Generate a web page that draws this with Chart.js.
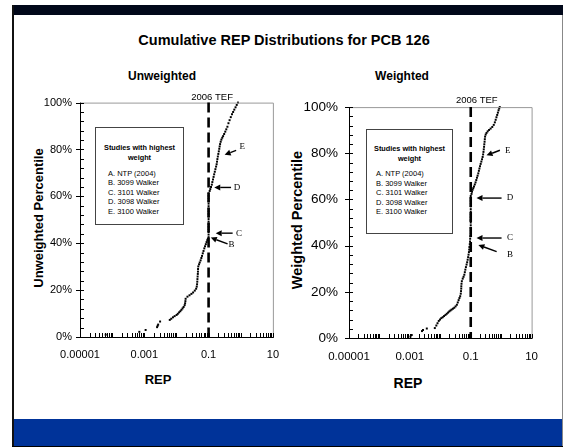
<!DOCTYPE html>
<html><head><meta charset="utf-8">
<script src="https://cdn.jsdelivr.net/npm/chart.js@4.4.0/dist/chart.umd.min.js"></script>
<style>
html,body{margin:0;padding:0;background:#fff;}
body{width:565px;height:447px;position:relative;overflow:hidden;font-family:"Liberation Sans",Arial,sans-serif;color:#000;}
.r{position:absolute;}
.t{position:absolute;white-space:nowrap;transform:translate(-50%,-50%);font-weight:bold;}
.box{position:absolute;border:1px solid #444;background:#fff;box-sizing:border-box;}
.box div{position:absolute;white-space:nowrap;line-height:1;}
.bt{font-weight:bold;left:50%;transform:translate(-50%,-50%);font-size:7.3px;}
.bi{transform:translateY(-50%);font-size:7.5px;}
</style></head>
<body>
<div class="r" style="left:12px;top:5px;width:551px;height:10px;background:#01081a"></div>
<div class="r" style="left:12px;top:5px;width:2px;height:442px;background:#111"></div>
<div class="r" style="left:562px;top:15px;width:1px;height:431px;background:#888"></div>
<div class="r" style="left:14px;top:419px;width:548px;height:27px;background:#003399"></div>
<div class="r" style="left:12px;top:446px;width:551px;height:1px;background:#000"></div>

<div class="t" style="left:284px;top:40px;font-size:14.5px">Cumulative REP Distributions for PCB 126</div>
<div class="t" style="left:162px;top:76px;font-size:12px">Unweighted</div>
<div class="t" style="left:402px;top:76px;font-size:12px">Weighted</div>
<div class="t" style="left:38px;top:218px;font-size:13px;transform:translate(-50%,-50%) rotate(-90deg)">Unweighted Percentile</div>
<div class="t" style="left:297px;top:220px;font-size:14.5px;transform:translate(-50%,-50%) rotate(-90deg)">Weighted Percentile</div>
<div class="t" style="left:158px;top:379px;font-size:13px">REP</div>
<div class="t" style="left:408px;top:383px;font-size:14px">REP</div>

<div class="r" style="left:14px;top:88px;width:276px;height:300px"><canvas id="c1" width="276" height="300"></canvas></div>
<div class="r" style="left:290px;top:88px;width:260px;height:300px"><canvas id="c2" width="260" height="300"></canvas></div>

<div class="box" style="left:95px;top:127px;width:89px;height:98px">
  <div class="bt" style="top:20px">Studies with highest</div>
  <div class="bt" style="top:30px">weight</div>
  <div class="bi" style="left:12px;top:45.5px">A. NTP (2004)</div>
  <div class="bi" style="left:12px;top:55px">B. 3099 Walker</div>
  <div class="bi" style="left:12px;top:64.5px">C. 3101 Walker</div>
  <div class="bi" style="left:12px;top:74px">D. 3098 Walker</div>
  <div class="bi" style="left:12px;top:83.5px">E. 3100 Walker</div>
</div>
<div class="box" style="left:366px;top:129px;width:87px;height:105px">
  <div class="bt" style="top:19px">Studies with highest</div>
  <div class="bt" style="top:29px">weight</div>
  <div class="bi" style="left:9px;top:44px">A. NTP (2004)</div>
  <div class="bi" style="left:9px;top:53.5px">B. 3099 Walker</div>
  <div class="bi" style="left:9px;top:63px">C. 3101 Walker</div>
  <div class="bi" style="left:9px;top:72.5px">D. 3098 Walker</div>
  <div class="bi" style="left:9px;top:82px">E. 3100 Walker</div>
</div>

<script>
// ---- data ----
const unwREP = [0.000063,0.0007,0.0011,0.0025,0.0026,0.0027,0.0031,
 0.0062,0.0069,0.0078,0.0088,0.0101,0.011,0.0121,0.0132,0.0143,0.0155,
 0.0167,0.018,0.0186,0.019,0.0193,0.022,0.0255,0.0292,0.033,0.0372,
 0.041,0.0428,0.0438,0.0445,0.045,0.0456,0.0462,0.0467,0.047,0.0478,
 0.0505,0.053,0.0565,0.0595,0.0625,0.066,0.0695,0.0735,0.0775,0.082,
 0.0865,0.091,0.095,
 0.1,0.1,0.1,0.1,0.1,0.1,0.1,0.1,0.1,0.1,0.1,0.1,0.1,0.1,0.1,0.1,0.1,0.1,
 0.108,0.113,0.119,0.126,0.131,0.137,0.143,0.149,0.156,0.163,
 0.171,0.178,0.183,0.188,0.194,0.201,0.208,0.215,0.221,0.228,
 0.238,0.25,0.266,0.283,0.305,0.33,0.355,0.385,0.415,0.45,
 0.49,0.535,0.58,0.63,0.69,0.75,0.82];
const unwPct = [1.0,2.2,3.0,4.2,4.8,5.3,6.6,
 7.3,7.8,8.4,8.9,9.4,9.9,10.5,11.0,11.6,12.2,
 12.8,13.6,14.4,15.3,16.3,17.2,17.8,18.4,19.0,19.8,
 20.6,21.5,22.5,23.6,24.7,25.8,26.9,27.9,29.0,30.1,
 31.0,31.8,32.7,33.7,34.6,35.7,36.7,37.8,38.7,39.6,
 40.5,41.3,41.9,
 42.6,43.7,44.8,45.9,47.0,48.1,49.2,50.3,51.4,52.5,53.6,54.7,55.8,56.9,58.0,59.1,60.2,61.3,
 62.3,63.1,64.0,65.0,66.1,67.2,68.3,69.4,70.5,71.6,
 72.7,73.7,74.8,75.9,77.0,78.1,79.2,80.3,81.3,82.3,
 83.3,84.2,85.0,85.7,86.6,87.6,88.6,89.7,91.2,92.5,
 93.8,95.0,96.0,97.0,98.0,99.0,100];

const wREP = [0.00105,0.00115,0.0025,0.0027,0.0036,0.0066,0.0074,0.0081,0.0089,0.0098,
 0.0108,0.012,0.0133,0.0148,0.0163,0.018,0.0197,0.0215,0.0235,0.026,
 0.0288,0.0318,0.035,0.0375,0.04,0.0425,0.045,0.047,0.048,0.0487,
 0.049,0.0497,0.051,0.0545,0.058,0.0615,0.064,0.0665,0.0695,0.073,
 0.0762,0.0792,0.082,0.0848,0.0873,0.089,0.0905,0.093,0.0948,0.0958,
 0.0975,
 0.1,0.1,0.1,0.1,0.1,0.1,0.1,0.1,0.1,0.1,0.1,0.1,0.1,0.1,0.1,
 0.106,0.11,0.115,0.121,0.128,0.136,0.144,0.152,0.16,0.168,
 0.177,0.185,0.193,0.202,0.212,0.223,0.235,0.246,0.255,0.262,
 0.268,0.274,0.279,0.285,0.29,0.296,0.31,0.33,0.36,0.4,
 0.45,0.51,0.57,0.62,0.66,0.7,0.74,0.78,0.82,0.86,
 0.9];
const wPct = [0.6,1.3,3.0,3.5,4.1,4.3,5.4,6.4,7.4,8.0,
 8.6,9.0,9.5,10.0,10.5,11.0,11.5,11.9,12.3,12.7,
 13.1,13.7,14.4,15.4,16.4,17.3,18.1,19.2,20.3,21.4,
 22.4,23.5,24.6,25.7,26.5,27.4,28.5,29.6,30.7,31.8,
 32.8,33.9,35.0,36.1,37.2,38.3,39.4,40.6,41.8,43.0,
 44.1,
 45.3,46.5,47.6,48.8,50.0,51.1,52.3,53.5,54.7,55.8,57.0,58.2,59.4,60.5,61.5,
 62.4,63.3,64.2,64.9,65.6,66.5,67.4,68.4,69.4,70.3,
 71.3,72.4,73.4,74.4,75.4,76.4,77.4,78.4,79.5,80.6,
 81.7,82.8,83.9,85.0,86.1,87.2,88.1,88.8,89.5,90.1,
 90.7,91.4,92.3,93.4,94.5,95.6,96.6,97.6,98.6,99.4,
 100];

const repTickLabels = [0.00001, 0.001, 0.1, 10];
const pctTickLabels = [0, 20, 40, 60, 80, 100];
const pctMinorStep = 4;
const tefValue = 0.1;
const tefLabel = '2006 TEF';
const studyLetters = ['E', 'D', 'C', 'B'];

Chart.defaults.font.family = "'Liberation Sans', Arial, sans-serif";
Chart.defaults.color = '#000';

const decorPlugin = {
  id: 'decor',
  afterDatasetsDraw(chart, args, o) {
    const {ctx, chartArea: {left, right, top, bottom}, scales: {x, y}} = chart;
    ctx.save();
    ctx.lineWidth = 1;
    ctx.strokeStyle = '#999';
    ctx.beginPath();
    ctx.moveTo(left, top + 0.5); ctx.lineTo(right + 0.5, top + 0.5); ctx.lineTo(right + 0.5, bottom);
    ctx.stroke();
    ctx.strokeStyle = '#000';
    ctx.beginPath();
    ctx.moveTo(left + 0.5, top); ctx.lineTo(left + 0.5, bottom + 0.5); ctx.lineTo(right + 1, bottom + 0.5);
    ctx.stroke();
    ctx.beginPath();
    for (let d = -5; d <= 0; d++) {
      for (let k = 1; k <= 9; k++) {
        const px = Math.round(x.getPixelForValue(k * Math.pow(10, d))) + 0.5;
        ctx.moveTo(px, bottom); ctx.lineTo(px, bottom - 4);
      }
    }
    const p10 = Math.round(x.getPixelForValue(10)) + 0.5;
    ctx.moveTo(p10, bottom); ctx.lineTo(p10, bottom - 4);
    for (let p = 0; p <= 100; p += pctMinorStep) {
      const py = Math.round(y.getPixelForValue(p)) + 0.5;
      ctx.moveTo(left, py); ctx.lineTo(left + 4, py);
      if (p % 20 === 0) { ctx.moveTo(left - 4, py); ctx.lineTo(left, py); }
    }
    ctx.stroke();
    const tx = x.getPixelForValue(tefValue);
    ctx.setLineDash([10, 5]);
    ctx.lineWidth = 2.6;
    ctx.beginPath();
    ctx.moveTo(tx, y.getPixelForValue(100)); ctx.lineTo(tx, y.getPixelForValue(0));
    ctx.stroke();
    ctx.setLineDash([]);
    ctx.font = o.tefFont + "px 'Liberation Sans', Arial, sans-serif";
    ctx.fillStyle = '#000';
    ctx.textAlign = 'center'; ctx.textBaseline = 'middle';
    ctx.fillText(tefLabel, tx + o.tefDx, top - o.tefDy);
    ctx.lineWidth = 1.4;
    o.arrows.forEach((a, i) => {
      const x0 = x.getPixelForValue(a.tail[0]), y0 = y.getPixelForValue(a.tail[1]);
      const x1 = x.getPixelForValue(a.head[0]), y1 = y.getPixelForValue(a.head[1]);
      const ang = Math.atan2(y1 - y0, x1 - x0), hl = 6, hw = 3;
      const bx = x1 - hl * Math.cos(ang), by = y1 - hl * Math.sin(ang);
      ctx.beginPath(); ctx.moveTo(x0, y0); ctx.lineTo(bx, by); ctx.stroke();
      ctx.beginPath();
      ctx.moveTo(x1, y1);
      ctx.lineTo(bx + hw * Math.sin(ang), by - hw * Math.cos(ang));
      ctx.lineTo(bx - hw * Math.sin(ang), by + hw * Math.cos(ang));
      ctx.closePath(); ctx.fill();
      ctx.font = "9px 'Liberation Serif', 'Times New Roman', serif";
      ctx.fillText(studyLetters[i], x.getPixelForValue(a.text[0]), y.getPixelForValue(a.text[1]));
    });
    ctx.restore();
  }
};

function makeChart(id, rep, pct, cfg) {
  const pts = rep.map((r, i) => ({x: r, y: pct[i]}));
  return new Chart(document.getElementById(id), {
    type: 'scatter',
    data: {datasets: [{data: pts, pointStyle: 'rect', pointRadius: 1.4, pointHoverRadius: 1.4,
      backgroundColor: '#000', borderColor: '#000', borderWidth: 0, clip: false}]},
    options: {
      responsive: false, animation: false, devicePixelRatio: 1, events: [],
      layout: {padding: cfg.pad},
      plugins: {legend: {display: false}, tooltip: {enabled: false}, decor: cfg.decor},
      scales: {
        x: {type: 'logarithmic', min: 0.00001, max: 10, position: 'bottom',
          afterBuildTicks: s => { s.ticks = repTickLabels.map(v => ({value: v})); },
          afterFit: s => { s.height = cfg.xH; },
          grid: {display: false, drawTicks: false}, border: {display: false},
          ticks: {autoSkip: false, maxRotation: 0, padding: cfg.xPad, color: '#000',
            font: {size: cfg.xFont}, callback: v => String(v)}},
        y: {type: 'linear', min: 0, max: 100,
          afterBuildTicks: s => { s.ticks = pctTickLabels.map(v => ({value: v})); },
          afterFit: s => { s.width = cfg.yW; },
          grid: {display: false, drawTicks: false}, border: {display: false},
          ticks: {padding: cfg.yPad, color: '#000', font: {size: cfg.yFont}, callback: v => v + '%'}}
      }
    },
    plugins: [decorPlugin]
  });
}

makeChart('c1', unwREP, unwPct, {
  pad: {top: 14, right: 10, left: 0, bottom: 0}, yW: 66, xH: 51, xPad: 11, yPad: 8, xFont: 11, yFont: 11,
  decor: {tefFont: 9.5, tefDx: 3.5, tefDy: 5,
    arrows: [
      {text: [1.12, 81.2], tail: [0.72, 79.6], head: [0.316, 77.8]},
      {text: [0.76, 63.8], tail: [0.5, 63.8], head: [0.15, 63.8]},
      {text: [0.89, 44.3], tail: [0.56, 44.3], head: [0.166, 44.3]},
      {text: [0.52, 39.3], tail: [0.39, 39.7], head: [0.117, 42.4]}
    ]}
});
makeChart('c2', wREP, wPct, {
  pad: {top: 19, right: 18, left: 0, bottom: 0}, yW: 59, xH: 50, xPad: 12, yPad: 11, xFont: 11.5, yFont: 13.5,
  decor: {tefFont: 9.5, tefDx: 6, tefDy: 6.5,
    arrows: [
      {text: [1.66, 81.3], tail: [0.91, 81.3], head: [0.33, 79.1]},
      {text: [1.95, 60.6], tail: [1.03, 60.6], head: [0.155, 60.6]},
      {text: [1.95, 43.3], tail: [1.03, 43.3], head: [0.155, 43.3]},
      {text: [1.95, 36.0], tail: [0.71, 37.4], head: [0.178, 40.3]}
    ]}
});
</script>
</body></html>
